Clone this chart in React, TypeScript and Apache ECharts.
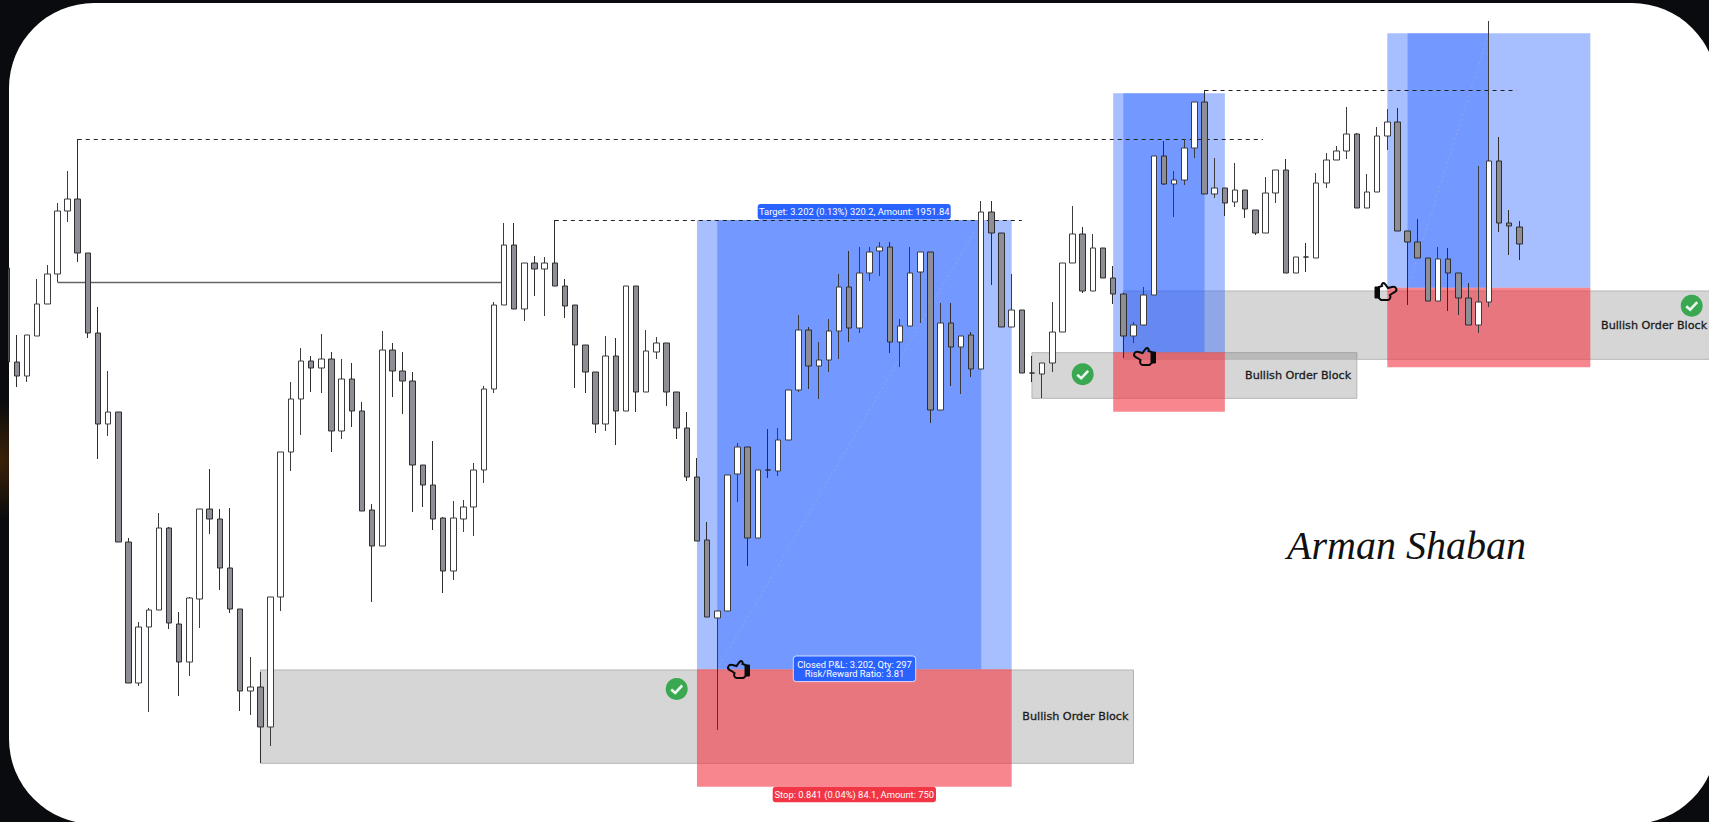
import React, { useEffect, useRef } from "react";
import * as echarts from "echarts";

// Candles, in points on the chart's own price scale
const opens = [
  554, 460, 446, 486, 518, 548, 611, 623, 569, 489,
  398, 410, 280, 139, 195, 212, 294, 198, 160, 223,
  313, 303, 254, 213, 131, 135, 95, 225, 370, 423,
  461, 454, 463, 391, 443, 411, 312, 276, 472, 451,
  441, 357, 337, 304, 251, 303, 315, 352, 433, 517,
  577, 513, 559, 553, 559, 536, 517, 477, 450, 398,
  466, 411, 536, 430, 470, 479, 430, 394, 345, 282,
  204, 211, 348, 375, 284, 352, 351, 382, 432, 492,
  456, 462, 491, 535, 494, 549, 571, 575, 480, 496,
  550, 570, 412, 499, 475, 487, 453, 610, 589, 495,
  512, 449, 448, 459, 490, 559, 588, 531, 574, 544,
  528, 486, 497, 527, 666, 638, 642, 674, 720, 628,
  634, 620, 632, 612, 589, 629, 652, 549, 565, 564,
  639, 662, 671, 688, 614, 630, 686, 700, 591, 580,
  564, 521, 563, 549, 524, 497, 520, 661, 599, 595,
];
const closes = [
  460, 446, 487, 518, 548, 611, 623, 569, 489, 398,
  410, 280, 139, 195, 212, 294, 199, 160, 224, 313,
  303, 254, 213, 131, 135, 95, 225, 370, 423, 461,
  454, 463, 391, 443, 411, 311, 276, 472, 451, 441,
  357, 337, 303, 251, 304, 315, 352, 433, 517, 577,
  513, 559, 553, 559, 536, 516, 477, 450, 398, 466,
  411, 536, 430, 471, 479, 430, 394, 345, 281, 205,
  211, 347, 375, 284, 352, 352, 382, 432, 492, 456,
  462, 491, 535, 494, 549, 570, 575, 480, 496, 549,
  570, 412, 499, 475, 486, 453, 610, 589, 495, 512,
  449, 449, 459, 490, 559, 588, 531, 574, 544, 528,
  486, 497, 527, 666, 638, 642, 674, 720, 628, 634,
  619, 632, 613, 589, 629, 652, 549, 565, 565, 639,
  662, 671, 688, 614, 630, 686, 700, 591, 580, 564,
  521, 563, 549, 524, 497, 520, 661, 599, 596, 578,
];
const lows = [
  460, 435, 440, 486, 518, 540, 600, 560, 484, 363,
  386, 280, 139, 136, 110, 212, 193, 126, 146, 194,
  288, 232, 209, 111, 107, 59, 76, 211, 351, 387,
  430, 429, 370, 383, 395, 311, 220, 276, 425, 408,
  310, 315, 292, 229, 242, 290, 286, 339, 429, 517,
  513, 501, 526, 506, 536, 504, 434, 429, 389, 391,
  377, 411, 410, 430, 463, 416, 383, 341, 281, 205,
  92, 211, 320, 256, 284, 344, 346, 382, 430, 433,
  423, 450, 463, 480, 489, 541, 546, 469, 455, 496,
  499, 399, 412, 436, 428, 445, 453, 537, 495, 495,
  449, 440, 424, 450, 490, 559, 529, 531, 544, 518,
  464, 479, 497, 527, 637, 605, 637, 664, 628, 624,
  606, 615, 604, 587, 589, 619, 549, 549, 550, 564,
  634, 662, 663, 614, 614, 630, 672, 591, 517, 564,
  521, 521, 511, 507, 497, 489, 515, 590, 567, 562,
];
const highs = [
  554, 487, 487, 543, 557, 619, 651, 683, 569, 515,
  451, 410, 284, 200, 214, 309, 295, 210, 225, 313,
  353, 313, 314, 213, 165, 150, 225, 370, 440, 474,
  466, 488, 470, 463, 459, 420, 318, 491, 479, 470,
  450, 357, 381, 305, 321, 322, 359, 436, 520, 599,
  599, 559, 566, 565, 602, 543, 517, 477, 450, 486,
  484, 536, 536, 492, 485, 479, 430, 410, 364, 300,
  211, 347, 379, 375, 352, 393, 394, 432, 507, 495,
  480, 503, 548, 571, 575, 575, 580, 580, 503, 575,
  570, 570, 519, 519, 486, 490, 621, 621, 589, 548,
  512, 466, 459, 520, 559, 616, 595, 588, 574, 556,
  529, 500, 535, 666, 681, 651, 683, 720, 732, 664,
  634, 659, 632, 612, 645, 652, 663, 565, 579, 649,
  669, 676, 715, 689, 648, 695, 713, 714, 591, 603,
  564, 575, 574, 549, 539, 656, 801, 685, 612, 601,
];
const barLabels = opens.map((_, i) => String(i));
const slotCount = 168;

// Zones, in bar numbers and price points: [from bar, to bar, low, high]
const orderBlocks = [
  [25, 111, 58.7, 152],
  [101, 133, 423.7, 469.3],
  [110, 172, 462.7, 531],
];
const targetZones = [
  [68, 99, 152.7, 602],
  [109, 120, 469.7, 728.7],
  [136, 156, 534.3, 788.7],
];
const holdingZones = [
  [70, 96, 152.7, 602],
  [110, 118, 469.7, 728.7],
  [138, 146, 534.3, 788.7],
];
const stopZones = [
  [68, 99, 35.3, 152.7],
  [109, 120, 410.3, 469.7],
  [136, 156, 454.7, 534.3],
];
// Level lines: [from bar, to bar, price]
const dashedLevels = [
  [7, 123.75, 683],
  [54, 100, 602],
  [118, 148.75, 732],
];
const solidLevels = [[5, 49, 540]];
// Trade paths: [from bar, from price, to bar, to price]
const tradePaths = [
  [70, 152.7, 96, 602],
  [138, 534.3, 146, 788.7],
];

const targetText = "Target: 3.202 (0.13%) 320.2, Amount: 1951.84";
const stopText = "Stop: 0.841 (0.04%) 84.1, Amount: 750";
const pnlText = "Closed P&L: 3.202, Qty: 297";
const ratioText = "Risk/Reward Ratio: 3.81";
const blockText = "Bullish Order Block";
const signatureText = "Arman Shaban";

const handOutline =
  "M3 10 C0 8 2 4 6 5 L10 6 L13 2 C15 0 17 2 16 4 L19 5 L19 16 L17 18 L10 18 C8 18 7 15 8 13 L5 11 Z";
const handCuff = "M19 5 L23 5 L23 16 L19 16 Z";

echarts.graphic.registerShape("handOutline", echarts.graphic.extendPath(handOutline, {}));
echarts.graphic.registerShape("handCuff", echarts.graphic.extendPath(handCuff, {}));

const zoneSeries = (rows: number[][], fill: string, z: number, stroke?: string) => ({
  type: "custom",
  xAxisIndex: 1,
  yAxisIndex: 0,
  z,
  silent: true,
  clip: false,
  data: rows,
  encode: { x: [0, 1], y: [2, 3] },
  renderItem: (_: any, api: any) => {
    const a = api.coord([api.value(0), api.value(3)]);
    const b = api.coord([api.value(1), api.value(2)]);
    return {
      type: "rect",
      shape: { x: a[0], y: a[1], width: b[0] - a[0], height: b[1] - a[1] },
      style: { fill, stroke: stroke || "none", lineWidth: stroke ? 1 : 0 },
    };
  },
});

const lineSeries = (rows: number[][], stroke: string, dash: number[] | null, z: number, width = 1) => ({
  type: "custom",
  xAxisIndex: 1,
  yAxisIndex: 0,
  z,
  silent: true,
  clip: false,
  data: rows,
  encode: { x: [0, 1], y: 2 },
  renderItem: (_: any, api: any) => {
    const a = api.coord([api.value(0), api.value(2)]);
    const b = api.coord([api.value(1), api.value(2)]);
    return {
      type: "line",
      shape: { x1: a[0], y1: Math.round(a[1]) + 0.5, x2: b[0], y2: Math.round(b[1]) + 0.5 },
      style: { stroke, lineWidth: width, lineDash: dash || undefined, fill: "none" },
    };
  },
});

const pathSeries = (rows: number[][], stroke: string, z: number) => ({
  type: "custom",
  xAxisIndex: 1,
  yAxisIndex: 0,
  z,
  silent: true,
  clip: false,
  data: rows,
  encode: { x: [0, 2], y: [1, 3] },
  renderItem: (_: any, api: any) => {
    const a = api.coord([api.value(0), api.value(1)]);
    const b = api.coord([api.value(2), api.value(3)]);
    return {
      type: "line",
      shape: { x1: a[0], y1: a[1], x2: b[0], y2: b[1] },
      style: { stroke, lineWidth: 1, lineDash: [2, 3], fill: "none" },
    };
  },
});

const pill = (x: number, y: number, w: number, h: number, fill: string, stroke?: string) => ({
  type: "rect",
  z: 100,
  shape: { x, y, width: w, height: h, r: 3 },
  style: { fill, stroke: stroke || "none", lineWidth: stroke ? 1 : 0 },
});
const caption = (
  x: number,
  y: number,
  text: string,
  fill: string,
  size: number,
  family: string,
  align = "center",
  bold = 0
) => ({
  type: "text",
  z: 101,
  x,
  y,
  style: {
    text,
    fill,
    font: `${size}px "${family}"`,
    align,
    verticalAlign: "middle",
    stroke: bold ? fill : undefined,
    lineWidth: bold,
  },
});
const tick = (cx: number, cy: number) => [
  { type: "circle", z: 100, shape: { cx, cy, r: 11 }, style: { fill: "#39a851" } },
  {
    type: "polyline",
    z: 101,
    shape: { points: [[cx - 5.5, cy + 0.5], [cx - 1.5, cy + 4], [cx + 5.5, cy - 3.5]] },
    style: { stroke: "rgba(255,255,255,0.9)", lineWidth: 2.6, fill: "none" },
  },
];
const hand = (x: number, y: number, flip: boolean) => [
  {
    type: "handOutline",
    z: 100,
    x,
    y,
    scaleX: flip ? -1 : 1,
    scaleY: 1,
    style: { fill: "none", stroke: "#0a0a0a", lineWidth: 2 },
  },
  {
    type: "handCuff",
    z: 100,
    x,
    y,
    scaleX: flip ? -1 : 1,
    scaleY: 1,
    style: { fill: "#0a0a0a", stroke: "#0a0a0a", lineWidth: 1 },
  },
];

export default function App() {
  const ref = useRef<HTMLDivElement>(null);
  useEffect(() => {
    const chart = echarts.init(ref.current!, null, { renderer: "svg" });
    chart.setOption({
      animation: false,
      backgroundColor: "transparent",
      grid: { left: 1.574, top: 0, width: 1705.5, height: 822, containLabel: false },
      xAxis: [
        { type: "category", data: Array.from({ length: slotCount }, (_, i) => barLabels[i] || String(i)), show: false, boundaryGap: true },
        { type: "value", min: -0.5, max: slotCount - 0.5, show: false },
      ],
      yAxis: [{ type: "value", min: 0, max: 822, show: false }],
      series: [
        zoneSeries(orderBlocks, "rgba(120,120,120,0.3)", 1, "#b4b4b4"),
        zoneSeries(targetZones, "rgba(41,98,255,0.41)", 2),
        zoneSeries(holdingZones, "rgba(41,98,255,0.41)", 3),
        zoneSeries(stopZones, "rgba(242,54,69,0.6)", 4),
        pathSeries(tradePaths, "rgba(170,180,200,0.55)", 5),
        lineSeries(solidLevels, "#666666", null, 5, 1.4),
        lineSeries(dashedLevels, "#222222", [4, 4], 5),
        {
          type: "candlestick",
          z: 6,
          xAxisIndex: 0,
          yAxisIndex: 0,
          barWidth: 6,
          silent: true,
          data: opens.map((o, i) => [o, closes[i], lows[i], highs[i]]),
          itemStyle: {
            color: "#ffffff",
            color0: "#8d8e96",
            borderColor: "#3c3c3c",
            borderColor0: "#2e2e2e",
            borderColorDoji: "#2e2e2e",
            borderWidth: 1,
          },
        },
      ],
      graphic: {
        elements: [
          { type: "rect", z: 50, shape: { x: 0, y: 250, width: 8.5, height: 130 }, style: { fill: "#0a0b0e" } },
          pill(757.7, 204, 193, 15.5, "#2962ff"),
          caption(854.2, 211.8, targetText, "#ffffff", 9.4, "Roboto"),
          pill(793.3, 656, 122.4, 25.6, "#2962ff", "rgba(255,255,255,0.75)"),
          caption(854.5, 664.3, pnlText, "#ffffff", 9.4, "Roboto"),
          caption(854.5, 673.5, ratioText, "#ffffff", 9.4, "Roboto"),
          pill(772.7, 786.7, 163.3, 15.5, "#f23645"),
          caption(854.3, 794.5, stopText, "#ffffff", 9.4, "Roboto"),
          caption(1022.3, 716, blockText, "#1a1a1a", 11.2, "DejaVu Sans", "left", 0.3),
          caption(1245, 375.7, blockText, "#1a1a1a", 11.2, "DejaVu Sans", "left", 0.3),
          caption(1601, 325, blockText, "#1a1a1a", 11.2, "DejaVu Sans", "left", 0.3),
          ...tick(676.7, 689),
          ...tick(1082.7, 374.3),
          ...tick(1691.7, 305.7),
          ...hand(726.5, 660, false),
          ...hand(1132.5, 347, false),
          ...hand(1398, 282, true),
          {
            type: "text",
            z: 101,
            x: 1287,
            y: 545,
            style: {
              text: signatureText,
              fill: "#111111",
              font: 'italic 40px "Liberation Serif"',
              align: "left",
              verticalAlign: "middle",
            },
          },
        ],
      },
    });
    return () => chart.dispose();
  }, []);

  return (
    <div
      style={{
        position: "fixed",
        left: 0,
        top: 0,
        width: 1709,
        height: 822,
        overflow: "hidden",
        background:
          "radial-gradient(circle at 0px 460px, #3a2208 0, #0a0b0e 60px), #0a0b0e",
      }}
    >
      <div
        style={{
          position: "absolute",
          left: 8.5,
          top: 3,
          width: 1708.5,
          height: 821,
          background: "#ffffff",
          borderRadius: 85,
        }}
      />
      <div ref={ref} style={{ position: "absolute", left: 0, top: 0, width: 1709, height: 822 }} />
    </div>
  );
}
